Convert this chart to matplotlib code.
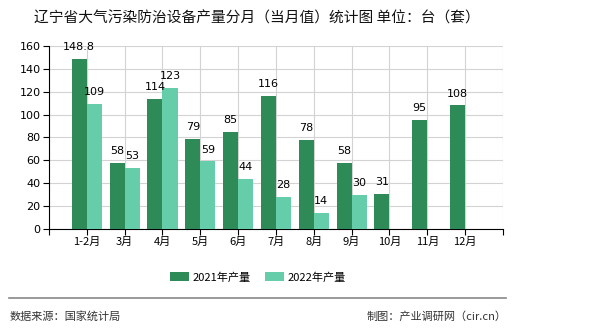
import matplotlib
matplotlib.use("Agg")
import matplotlib.pyplot as plt
import numpy as np

plt.rcParams['font.family'] = ['Noto Sans CJK SC', 'DejaVu Sans']

categories = ["1-2月", "3月", "4月", "5月", "6月", "7月", "8月", "9月", "10月", "11月", "12月"]
values_2021 = [148.8, 58, 114, 79, 85, 116, 78, 58, 31, 95, 108]
values_2022 = [109, 53, 123, 59, 44, 28, 14, 30, None, None, None]
yticks = [0, 20, 40, 60, 80, 100, 120, 140, 160]

c2021 = "#2E8B57"
c2022 = "#66CDAA"

fig = plt.figure(figsize=(5.9, 3.3), dpi=100)
ax = fig.add_axes([0.083, 0.306, 0.7695, 0.555])

x = np.arange(1, len(categories) + 1)
bw = 0.4

v21 = [v if v is not None else np.nan for v in values_2021]
v22 = [v if v is not None else np.nan for v in values_2022]
b1 = ax.bar(x - bw / 2, v21, bw, color=c2021, label="2021年产量", zorder=3)
b2 = ax.bar(x + bw / 2, v22, bw, color=c2022, label="2022年产量", zorder=3)

def fmt(v):
    return ("%g" % v)

for xi, v in zip(x, values_2021):
    if v is not None:
        ax.text(xi - bw / 2, v + 6, fmt(v), ha="center", va="bottom", fontsize=8, family="DejaVu Sans", zorder=4)
for xi, v in zip(x, values_2022):
    if v is not None:
        ax.text(xi + bw / 2, v + 6, fmt(v), ha="center", va="bottom", fontsize=8, family="DejaVu Sans", zorder=4)

ax.set_xlim(0, len(categories) + 1)
ax.set_ylim(0, 160)
ax.set_yticks(yticks)
ax.set_yticklabels([str(t) for t in yticks], fontsize=8, family="DejaVu Sans")
ax.set_xticks(np.arange(0, len(categories) + 2))
ax.set_xticklabels([""] + categories + [""], fontsize=8)
ax.tick_params(axis="both", length=4, width=0.8, color="black", pad=2)
ax.grid(True, color="#d3d3d3", linewidth=0.8, zorder=0)
ax.set_axisbelow(True)
for s in ["top", "right"]:
    ax.spines[s].set_visible(False)
ax.spines["left"].set_color("black")
ax.spines["bottom"].set_color("black")

fig.text(0.436, 0.945, "辽宁省大气污染防治设备产量分月（当月值）统计图 单位：台（套）",
         ha="center", va="center", fontsize=10.6, color="#111111")

leg = fig.legend(handles=[b1, b2], loc="center", bbox_to_anchor=(0.437, 0.16), ncol=2,
                 frameon=False, fontsize=8, handlelength=1.7, handleheight=0.9,
                 columnspacing=1.3, handletextpad=0.35)

fig.add_artist(plt.Line2D([0.016, 0.858], [0.097, 0.097], color="#888888", linewidth=1.2))
fig.text(0.017, 0.042, "数据来源：国家统计局", ha="left", va="center", fontsize=8, color="#333333")
fig.text(0.858, 0.042, "制图：产业调研网（cir.cn）", ha="right", va="center", fontsize=8, color="#333333")

fig.savefig("out.png", dpi=100)
